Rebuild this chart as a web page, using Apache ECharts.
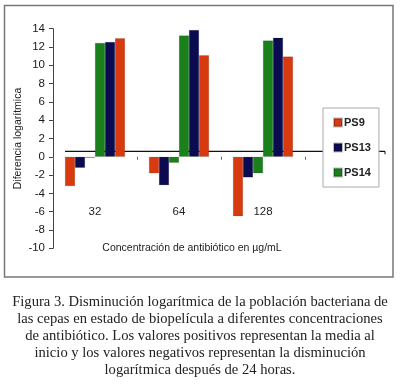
<!DOCTYPE html>
<html>
<head>
<meta charset="utf-8">
<script src="https://cdn.jsdelivr.net/npm/echarts@6/dist/echarts.min.js"></script>
<style>
  html, body { margin: 0; padding: 0; background: #fff; }
  #chart { width: 400px; height: 388px; }
</style>
</head>
<body>
<div id="chart"></div>
<script>
const categories = ["32", "64", "128"];
const ps9Neg = [-3.2, -1.8, -6.5];
const ps13Neg = [-1.2, -3.1, -2.25];
const ps14Neg = [-0.1, -0.65, -1.8];
const ps14Pos = [12.45, 13.25, 12.7];
const ps13Pos = [12.55, 13.85, 13.0];
const ps9Pos = [12.95, 11.1, 10.95];
const yTicks = { min: -10, max: 14, interval: 2 };
const refLevel = 0.6;

const RED = "#d83a10";
const NAVY = "#0b0b52";
const GREEN = "#1a801c";

const chartDom = document.getElementById("chart");
const myChart = echarts.init(chartDom);

function bar(name, data, color) {
  return {
    name: name,
    type: "bar",
    data: data,
    barWidth: 10,
    barGap: "0%",
    itemStyle: { color: color, borderColor: "rgba(0,0,0,0.25)", borderWidth: 0.5 },
  };
}

const option = {
  animation: false,
  textStyle: { fontFamily: "Liberation Sans, Arial, sans-serif" },
  title: {
    text:
      "Figura 3. Disminución logarítmica de la población bacteriana de\n" +
      "las cepas en estado de biopelícula a diferentes concentraciones\n" +
      "de antibiótico. Los valores positivos representan la media al\n" +
      "inicio y los valores negativos representan la disminución\n" +
      "logarítmica después de 24 horas.",
    left: "center",
    top: 289,
    textStyle: {
      fontFamily: "Liberation Serif, Times New Roman, serif",
      fontSize: 14.6,
      fontWeight: "normal",
      lineHeight: 17,
      color: "#222",
    },
  },
  legend: {
    data: ["PS9", "PS13", "PS14"],
    orient: "vertical",
    left: 323,
    top: 108,
    width: 54,
    padding: [9, 8, 9, 10],
    itemGap: 14,
    itemWidth: 8,
    itemHeight: 8,
    icon: "rect",
    backgroundColor: "#fff",
    borderColor: "#aaa",
    borderWidth: 1,
    z: 10,
    textStyle: { fontSize: 11, fontWeight: "bold", color: "#222", padding: [0, 0, 0, -3] },
  },
  grid: { left: 53, right: 95, top: 28.7, bottom: 139.7 },
  xAxis: [
    {
      // ticks at zero
      type: "category",
      data: categories,
      axisLine: { show: true, onZero: true, lineStyle: { opacity: 0 } },
      axisTick: { show: true, length: 3, lineStyle: { color: "#666", opacity: 1 } },
      axisLabel: { show: false },
    },
    {
      // category labels and axis name
      type: "category",
      data: categories,
      position: "bottom",
      name: "Concentración de antibiótico en µg/mL",
      nameLocation: "middle",
      nameGap: -6,
      nameMoveOverlap: false,
      nameTextStyle: { fontSize: 10.5, color: "#222", padding: [0, 0, 0, 26] },
      axisLine: { show: false, onZero: false },
      axisTick: { show: false },
      axisLabel: { margin: -42, fontSize: 11.5, color: "#222" },
    },
  ],
  yAxis: {
    type: "value",
    min: yTicks.min,
    max: yTicks.max,
    interval: yTicks.interval,
    name: "Diferencia logarítmica",
    nameLocation: "middle",
    nameGap: 29,
    nameMoveOverlap: false,
    nameTextStyle: { fontSize: 10.5, color: "#222" },
    axisLine: { show: true, lineStyle: { color: "#444", width: 1 } },
    axisTick: { show: true, length: 4, lineStyle: { color: "#444" } },
    axisLabel: { fontSize: 11.5, color: "#1a1a1a", margin: 8 },
    splitLine: { show: false },
  },
  series: [
    bar("PS9", ps9Neg, RED),
    bar("PS13", ps13Neg, NAVY),
    bar("PS14", ps14Neg, GREEN),
    bar("PS14", ps14Pos, GREEN),
    bar("PS13", ps13Pos, NAVY),
    bar("PS9", ps9Pos, RED),
  ],
};

myChart.setOption(option);

// frame and the offset reference line
const yRef = myChart.convertToPixel({ yAxisIndex: 0 }, refLevel);
myChart.setOption({
  graphic: [
    {
      type: "rect",
      shape: { x: 4.5, y: 5.5, width: 388.5, height: 271.5 },
      style: { fill: "none", stroke: "#777", lineWidth: 1.5 },
      z: 0,
    },
    {
      type: "line",
      shape: { x1: 65, y1: yRef, x2: 385, y2: yRef },
      style: { stroke: "#111", lineWidth: 1.2 },
      z: 1,
    },
    {
      type: "line",
      shape: { x1: 385, y1: yRef, x2: 385, y2: yRef + 3 },
      style: { stroke: "#111", lineWidth: 1 },
      z: 1,
    },
  ],
});
</script>
</body>
</html>
